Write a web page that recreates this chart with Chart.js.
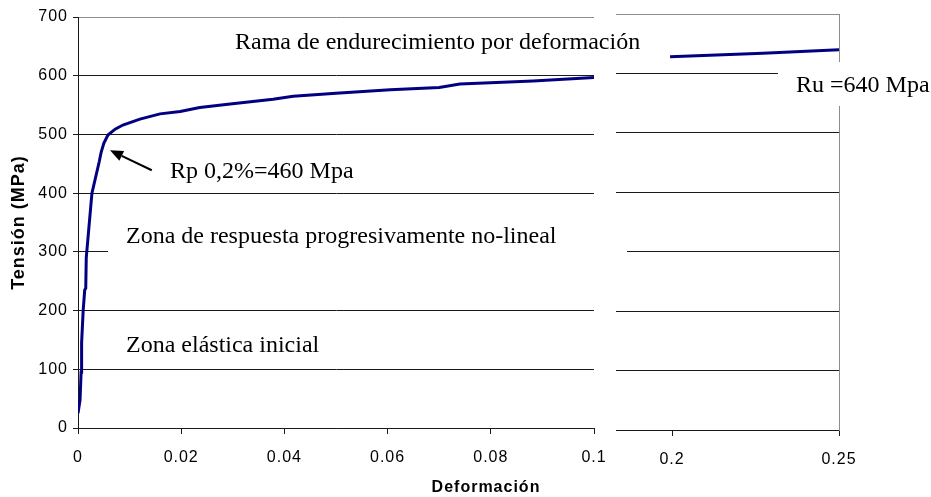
<!DOCTYPE html>
<html>
<head>
<meta charset="utf-8">
<script src="https://cdn.jsdelivr.net/npm/chart.js@4.4.0/dist/chart.umd.min.js"></script>
<style>
  html, body { margin: 0; padding: 0; background: #fff; }
  #wrap { position: relative; width: 931px; height: 497px; overflow: hidden; background: #fff; }
  #wrap canvas { position: absolute; left: 0; top: 0; }
</style>
</head>
<body>
<div id="wrap">
  <canvas id="main" width="931" height="497"></canvas>
  <canvas id="tail" width="931" height="497"></canvas>
</div>
<script>
// Stress-strain test curve: first branch (strain 0 to 0.1)
const strainMain = [0, 0.0004, 0.0006, 0.0007, 0.0007, 0.0010, 0.0013, 0.0015, 0.0016, 0.0019,
                    0.0027, 0.0041, 0.0045, 0.0050, 0.0058, 0.0072, 0.0087, 0.0120, 0.0159, 0.0198,
                    0.0236, 0.0295, 0.0378, 0.0417, 0.0500, 0.0605, 0.0700, 0.0740, 0.0882, 0.1000];
const stressMain = [25, 48, 95, 107, 145, 200, 235, 238, 290, 320,
                    400, 453, 470, 485, 499, 509, 516, 526, 535, 539,
                    546, 552, 560, 565, 570, 576, 580, 586, 591, 597];

// Last stretch of the curve, up to the ultimate strength
const strainTail = [0.1994, 0.2272, 0.25];
const stressTail = [628, 634, 640];

// Axis ticks
const stressTicks = [0, 100, 200, 300, 400, 500, 600, 700];
const strainTicksMain = [0, 0.02, 0.04, 0.06, 0.08, 0.1];
const strainTicksTail = [0.2, 0.25];

// Arrow pointing at the 0.2% proof stress (tail -> head, in data units)
const proofArrowFrom = { x: 0.0143, y: 439 };
const proofArrowTo = { x: 0.0062, y: 473 };

const SANS = "'Liberation Sans', Arial, sans-serif";
const SERIF = "'Liberation Serif', 'Times New Roman', serif";
const INK = '#1a1a1a';
const FRAME = '#8c8c8c';

const toPoints = (xs, ys) => xs.map((x, i) => ({ x: x, y: ys[i] }));
const gridColor = c => (c.tick && c.tick.value === 700) ? FRAME : INK;

// Sans labels in this figure are slightly letter-spaced
const spacing = {
  id: 'spacing',
  beforeDraw(chart) { chart.ctx.letterSpacing = '1px'; }
};

const tickFont = { family: SANS, size: 16 };

const mainChart = new Chart(document.getElementById('main'), {
  type: 'line',
  data: {
    datasets: [{
      data: toPoints(strainMain, stressMain),
      borderColor: '#000080',
      borderWidth: 3,
      pointRadius: 0,
      tension: 0,
      fill: false
    }]
  },
  options: {
    responsive: false,
    animation: false,
    devicePixelRatio: 1,
    layout: { padding: { left: 0, top: 17, right: 337, bottom: 0 } },
    plugins: { legend: { display: false }, tooltip: { enabled: false } },
    scales: {
      x: {
        type: 'linear',
        min: 0, max: 0.1,
        afterBuildTicks: s => { s.ticks = strainTicksMain.map(v => ({ value: v })); },
        afterFit: s => { s.height = 69; },
        border: { color: INK, width: 1 },
        grid: { drawOnChartArea: false, drawTicks: true, tickLength: 6, tickColor: INK },
        ticks: { color: '#000', font: tickFont, padding: 14, maxRotation: 0, autoSkip: false,
                 callback: v => String(v) }
      },
      y: {
        position: 'left',
        min: 0, max: 700,
        afterBuildTicks: s => { s.ticks = stressTicks.map(v => ({ value: v })); },
        afterFit: s => { s.width = 78; },
        border: { color: INK, width: 1 },
        grid: { color: gridColor, lineWidth: 1, drawTicks: true, tickLength: 5, tickColor: INK },
        ticks: { color: '#000', font: tickFont, padding: 5 },
        title: {
          display: true,
          text: 'Tensión (MPa)',
          color: '#000',
          font: { family: SANS, size: 18, weight: 'bold' },
          padding: { top: 8, bottom: 0 }
        }
      }
    }
  },
  plugins: [spacing]
});

// Text notes and arrow, drawn on the upper layer
const notes = {
  id: 'notes',
  afterDraw(chart) {
    const ctx = chart.ctx;
    ctx.save();
    ctx.letterSpacing = '0px';

    // white backing boxes behind two of the notes
    ctx.fillStyle = '#fff';
    ctx.fillRect(108, 222, 519, 36);
    ctx.fillRect(778, 62, 153, 44);

    ctx.fillStyle = '#000';
    ctx.font = '24px ' + SERIF;
    ctx.textAlign = 'left';
    ctx.textBaseline = 'alphabetic';
    ctx.fillText('Rama de endurecimiento por deformación', 235, 49);
    ctx.fillText('Rp 0,2%=460 Mpa', 170, 178);
    ctx.fillText('Zona de respuesta progresivamente no-lineal', 126, 243);
    ctx.fillText('Zona elástica inicial', 126, 352);
    ctx.fillText('Ru =640 Mpa', 796, 92);

    // axis title shared by both panels
    ctx.letterSpacing = '1px';
    ctx.font = 'bold 16px ' + SANS;
    ctx.textAlign = 'center';
    ctx.textBaseline = 'middle';
    ctx.fillText('Deformación', 486, 488);
    ctx.letterSpacing = '0px';

    // arrow to the proof stress point
    const xs = mainChart.scales.x, ys = mainChart.scales.y;
    const x0 = xs.getPixelForValue(proofArrowFrom.x), y0 = ys.getPixelForValue(proofArrowFrom.y);
    const x1 = xs.getPixelForValue(proofArrowTo.x), y1 = ys.getPixelForValue(proofArrowTo.y);
    const ang = Math.atan2(y1 - y0, x1 - x0);
    const head = 13, half = 5.5;
    const bx = x1 - head * Math.cos(ang), by = y1 - head * Math.sin(ang);
    ctx.strokeStyle = '#000';
    ctx.lineWidth = 2;
    ctx.beginPath();
    ctx.moveTo(x0, y0);
    ctx.lineTo(bx, by);
    ctx.stroke();
    ctx.beginPath();
    ctx.moveTo(x1, y1);
    ctx.lineTo(bx + half * Math.sin(ang), by - half * Math.cos(ang));
    ctx.lineTo(bx - half * Math.sin(ang), by + half * Math.cos(ang));
    ctx.closePath();
    ctx.fill();
    ctx.restore();
  }
};

const tailChart = new Chart(document.getElementById('tail'), {
  type: 'line',
  data: {
    datasets: [{
      data: toPoints(strainTail, stressTail),
      borderColor: '#000080',
      borderWidth: 3,
      pointRadius: 0,
      tension: 0,
      fill: false
    }]
  },
  options: {
    responsive: false,
    animation: false,
    devicePixelRatio: 1,
    layout: { padding: { left: 616, top: 14, right: 92, bottom: 0 } },
    plugins: { legend: { display: false }, tooltip: { enabled: false } },
    scales: {
      x: {
        type: 'linear',
        min: 0.1832, max: 0.25,
        afterBuildTicks: s => { s.ticks = strainTicksTail.map(v => ({ value: v })); },
        afterFit: s => { s.height = 67; },
        border: { color: INK, width: 1 },
        grid: { drawOnChartArea: false, drawTicks: true, tickLength: 6, tickColor: INK },
        ticks: { color: '#000', font: tickFont, padding: 14, maxRotation: 0, autoSkip: false,
                 callback: v => String(v) }
      },
      y: {
        position: 'right',
        min: 0, max: 700,
        afterBuildTicks: s => { s.ticks = stressTicks.map(v => ({ value: v })); },
        afterFit: s => { s.width = 0; },
        border: { color: FRAME, width: 1 },
        grid: { color: gridColor, lineWidth: 1, drawTicks: false },
        ticks: { display: false }
      }
    }
  },
  plugins: [spacing, notes]
});
</script>
</body>
</html>
